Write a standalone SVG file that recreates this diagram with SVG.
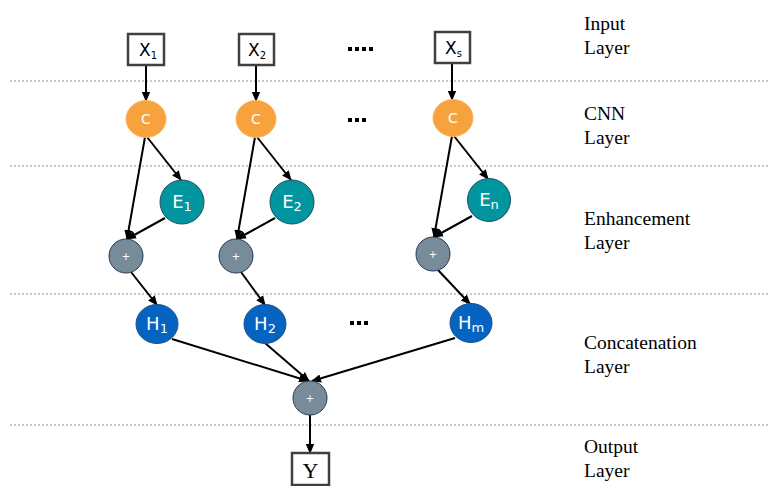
<svg xmlns="http://www.w3.org/2000/svg" width="769" height="486" viewBox="0 0 769 486">
  <defs>
    <marker id="arrow" markerUnits="userSpaceOnUse" markerWidth="10" markerHeight="10" viewBox="0 0 10 10" refX="9" refY="5" orient="auto">
      <path d="M0,0.8 L10,5 L0,9.2 Z" fill="#000"/>
    </marker>
    <style>
      .sep { stroke: #c8c8c8; stroke-width: 2; stroke-dasharray: 2 2; fill: none; }
      .box { fill: #fff; stroke: #404040; stroke-width: 2.5; }
      .cnn { fill: #f7a23d; stroke: #fbb562; stroke-width: 1; }
      .enh { fill: #00959f; stroke: #1f4e5f; stroke-width: 1; }
      .sum { fill: #778c98; stroke: #233a5a; stroke-width: 1; }
      .hid { fill: #0563c1; stroke: #1c4e86; stroke-width: 1; }
      .edge { stroke: #000; stroke-width: 2; fill: none; marker-end: url(#arrow); }
      .lbl { font-family: "DejaVu Sans", "Open Sans", sans-serif; fill: #fff; text-anchor: middle; }
      .inp { font-family: "DejaVu Sans", sans-serif; fill: #000; font-size: 17px; }
      .layer { font-family: "Liberation Serif", serif; font-size: 19.5px; fill: #000; }
      .dots { fill: #000; }
    </style>
  </defs>

  <!-- layer separators -->
  <g id="separators">
    <line class="sep" x1="10" y1="81" x2="769" y2="81"/>
    <line class="sep" x1="10" y1="166" x2="769" y2="166"/>
    <line class="sep" x1="10" y1="294" x2="769" y2="294"/>
    <line class="sep" x1="10" y1="425" x2="769" y2="425"/>
  </g>

  <!-- layer captions -->
  <g id="captions" class="layer">
    <text x="584" y="30">Input</text>
    <text x="584" y="54">Layer</text>
    <text x="584" y="120">CNN</text>
    <text x="584" y="144">Layer</text>
    <text x="584" y="225">Enhancement</text>
    <text x="584" y="249">Layer</text>
    <text x="584" y="349">Concatenation</text>
    <text x="584" y="373">Layer</text>
    <text x="584" y="453">Output</text>
    <text x="584" y="477">Layer</text>
  </g>

  <!-- connectors -->
  <g id="connectors">
    <line class="edge" x1="146" y1="65" x2="146" y2="101"/>
    <line class="edge" x1="256" y1="65" x2="256" y2="101"/>
    <line class="edge" x1="452" y1="63" x2="452" y2="100"/>

    <line class="edge" x1="145" y1="137" x2="127" y2="239"/>
    <line class="edge" x1="147" y1="137" x2="181" y2="180"/>
    <line class="edge" x1="165" y1="218" x2="127" y2="239"/>
    <line class="edge" x1="131" y1="272" x2="157" y2="305"/>

    <line class="edge" x1="255" y1="137" x2="237" y2="239"/>
    <line class="edge" x1="257" y1="137" x2="291" y2="180"/>
    <line class="edge" x1="275" y1="218" x2="237" y2="239"/>
    <line class="edge" x1="241" y1="272" x2="265" y2="305"/>

    <line class="edge" x1="452" y1="136" x2="434" y2="237"/>
    <line class="edge" x1="454" y1="136" x2="488" y2="179"/>
    <line class="edge" x1="472" y1="216" x2="434" y2="237"/>
    <line class="edge" x1="438" y1="270" x2="470" y2="304"/>

    <line class="edge" x1="172" y1="339" x2="308" y2="381"/>
    <line class="edge" x1="265" y1="343" x2="309" y2="381"/>
    <line class="edge" x1="455" y1="338" x2="312" y2="381"/>

    <line class="edge" x1="310" y1="415" x2="310" y2="453"/>
  </g>

  <!-- input layer -->
  <g id="x1">
    <rect class="box" x="128" y="34" width="36" height="31"/>
    <text class="inp" x="139" y="56">X<tspan font-size="10" dy="3">1</tspan></text>
  </g>
  <g id="x2">
    <rect class="box" x="239" y="34" width="35" height="31"/>
    <text class="inp" x="248" y="56">X<tspan font-size="10" dy="3">2</tspan></text>
  </g>
  <g id="xs">
    <rect class="box" x="435" y="32" width="35" height="31"/>
    <text class="inp" x="445" y="54">X<tspan font-size="10" dy="3">s</tspan></text>
  </g>

  <!-- ellipsis marks between columns -->
  <g id="ellipsis-input" class="dots">
    <rect x="348" y="47" width="4" height="4"/>
    <rect x="355" y="47" width="4" height="4"/>
    <rect x="362" y="47" width="4" height="4"/>
    <rect x="369" y="47" width="4" height="4"/>
  </g>

  <!-- CNN layer -->
  <g id="c1">
    <ellipse class="cnn" cx="146" cy="119" rx="20" ry="18.5"/>
    <text class="lbl" x="146" y="124" font-size="14">C</text>
  </g>
  <g id="c2">
    <ellipse class="cnn" cx="256" cy="119" rx="20" ry="18.5"/>
    <text class="lbl" x="256" y="124" font-size="14">C</text>
  </g>
  <g id="c3">
    <ellipse class="cnn" cx="453" cy="118" rx="20" ry="18.5"/>
    <text class="lbl" x="453" y="123" font-size="14">C</text>
  </g>
  <g id="ellipsis-cnn" class="dots">
    <rect x="348" y="118" width="4" height="4"/>
    <rect x="355" y="118" width="4" height="4"/>
    <rect x="362" y="118" width="4" height="4"/>
  </g>

  <!-- enhancement layer -->
  <g id="e1">
    <circle class="enh" cx="182" cy="202" r="22"/>
    <text class="lbl" x="182" y="208" font-size="18">E<tspan font-size="13" dy="3">1</tspan></text>
  </g>
  <g id="e2">
    <circle class="enh" cx="292" cy="202" r="22"/>
    <text class="lbl" x="292" y="208" font-size="18">E<tspan font-size="13" dy="3">2</tspan></text>
  </g>
  <g id="en">
    <circle class="enh" cx="489" cy="200" r="21.5"/>
    <text class="lbl" x="489" y="206" font-size="18">E<tspan font-size="13" dy="3">n</tspan></text>
  </g>

  <g id="s1">
    <circle class="sum" cx="126" cy="256" r="17"/>
    <text class="lbl" x="126" y="260" font-size="10">+</text>
  </g>
  <g id="s2">
    <circle class="sum" cx="236" cy="256" r="17"/>
    <text class="lbl" x="236" y="260" font-size="10">+</text>
  </g>
  <g id="s3">
    <circle class="sum" cx="433" cy="254" r="17"/>
    <text class="lbl" x="433" y="258" font-size="10">+</text>
  </g>

  <!-- concatenation layer -->
  <g id="h1">
    <ellipse class="hid" cx="157" cy="324" rx="21" ry="19.5"/>
    <text class="lbl" x="157" y="330" font-size="18">H<tspan font-size="13" dy="3">1</tspan></text>
  </g>
  <g id="h2">
    <ellipse class="hid" cx="265" cy="324" rx="21" ry="19.5"/>
    <text class="lbl" x="265" y="330" font-size="18">H<tspan font-size="13" dy="3">2</tspan></text>
  </g>
  <g id="hm">
    <ellipse class="hid" cx="471" cy="323" rx="21" ry="19.5"/>
    <text class="lbl" x="471" y="329" font-size="18">H<tspan font-size="13" dy="3">m</tspan></text>
  </g>
  <g id="ellipsis-concat" class="dots">
    <rect x="350" y="321" width="4" height="4"/>
    <rect x="357" y="321" width="4" height="4"/>
    <rect x="364" y="321" width="4" height="4"/>
  </g>

  <g id="sum-out">
    <circle class="sum" cx="310" cy="398" r="17"/>
    <text class="lbl" x="310" y="402" font-size="10">+</text>
  </g>

  <!-- output layer -->
  <g id="y">
    <rect class="box" x="292" y="453" width="37" height="32"/>
    <text x="310.5" y="478" font-family="Liberation Serif, serif" font-size="22" text-anchor="middle" fill="#000">Y</text>
  </g>
</svg>
